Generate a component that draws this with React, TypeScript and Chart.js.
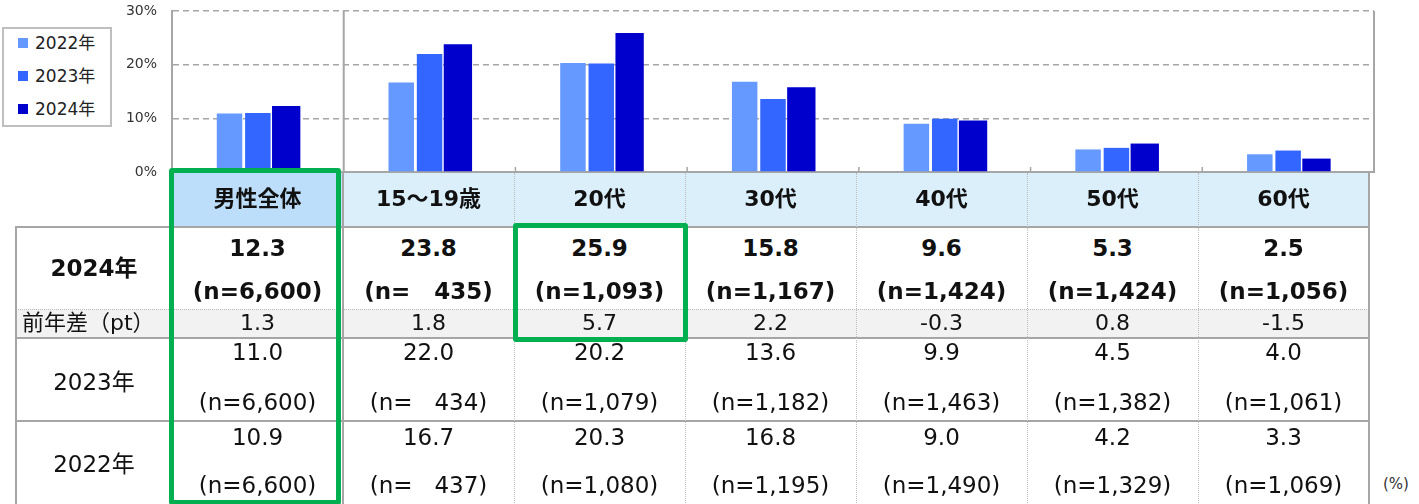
import React, { useEffect, useRef } from 'react';
import { Chart, registerables } from 'chart.js';

Chart.register(...registerables);

// ---------- data ----------
const categories = ['男性全体', '15～19歳', '20代', '30代', '40代', '50代', '60代'];
const years = ['2022年', '2023年', '2024年'];
const values2022 = [10.9, 16.7, 20.3, 16.8, 9.0, 4.2, 3.3];
const values2023 = [11.0, 22.0, 20.2, 13.6, 9.9, 4.5, 4.0];
const values2024 = [12.3, 23.8, 25.9, 15.8, 9.6, 5.3, 2.5];
const diffPt = [1.3, 1.8, 5.7, 2.2, -0.3, 0.8, -1.5];
const n2024 = ['6,600', '   435', '1,093', '1,167', '1,424', '1,424', '1,056'];
const n2023 = ['6,600', '   434', '1,079', '1,182', '1,463', '1,382', '1,061'];
const n2022 = ['6,600', '   437', '1,080', '1,195', '1,490', '1,329', '1,069'];
const yTicks = [0, 10, 20, 30];
const rowLabels = ['2024年', '前年差（pt）', '2023年', '2022年'];
const unitLabel = '(%)';

// ---------- styles ----------
const FONT = '"DejaVu Sans", "Noto Sans CJK JP", sans-serif';
const COLORS = ['#6699FF', '#3366FF', '#0000CC'];
const GRAY = '#A6A6A6';
const DOT = '#BDBDBD';
const GREEN = '#00B050';

const COL_X0 = 172;
const COL_W = 171;
const LABEL_X0 = 16;
const TABLE_R = COL_X0 + COL_W * 7;

const framePlugin = {
  id: 'frame',
  afterDraw(chart: any) {
    const { ctx, chartArea, scales } = chart;
    const { right, top, bottom } = chartArea;
    const x = scales.x;
    ctx.save();
    ctx.strokeStyle = GRAY;
    ctx.lineWidth = 2;
    ctx.beginPath();
    ctx.moveTo(right, top);
    ctx.lineTo(right, bottom);
    const b1 = (x.getPixelForValue(0) + x.getPixelForValue(1)) / 2;
    ctx.moveTo(b1, top);
    ctx.lineTo(b1, bottom);
    ctx.stroke();
    ctx.lineWidth = 1.5;
    ctx.beginPath();
    for (let i = 1; i < categories.length - 1; i++) {
      const b = (x.getPixelForValue(i) + x.getPixelForValue(i + 1)) / 2;
      ctx.moveTo(b, bottom);
      ctx.lineTo(b, bottom - 5);
    }
    ctx.stroke();
    ctx.restore();
  },
};

function BarChart() {
  const ref = useRef<HTMLCanvasElement | null>(null);
  useEffect(() => {
    if (!ref.current) return;
    const chart = new Chart(ref.current, {
      type: 'bar',
      data: {
        labels: categories,
        datasets: [
          { label: years[0], data: values2022, backgroundColor: COLORS[0], barPercentage: 0.9 },
          { label: years[1], data: values2023, backgroundColor: COLORS[1], barPercentage: 0.9 },
          { label: years[2], data: values2024, backgroundColor: COLORS[2], barPercentage: 1.0 },
        ],
      },
      options: {
        animation: false,
        responsive: false,
        devicePixelRatio: 1,
        layout: { padding: { top: 11, right: 45, bottom: 10, left: 0 } },
        datasets: { bar: { categoryPercentage: 0.495 } },
        plugins: { legend: { display: false }, tooltip: { enabled: false } },
        scales: {
          x: {
            grid: { display: false, drawTicks: false },
            ticks: { display: false },
            border: { display: true, color: GRAY, width: 2 },
          },
          y: {
            min: 0,
            max: 30,
            afterBuildTicks: (s: any) => {
              s.ticks = yTicks.map((v) => ({ value: v }));
            },
            afterFit: (s: any) => {
              s.width = 172;
              s.paddingTop = 0;
              s.paddingBottom = 0;
            },
            ticks: {
              padding: 15,
              color: '#333',
              font: { family: FONT, size: 14 },
              callback: (v: any) => v + '%',
            },
            grid: { color: GRAY, lineWidth: 1.5, drawTicks: false },
            border: { display: true, color: GRAY, width: 2, dash: [6, 4] },
          },
        },
      },
      plugins: [framePlugin],
    } as any);
    return () => chart.destroy();
  }, []);
  return (
    <canvas
      ref={ref}
      width={1419}
      height={182}
      style={{ position: 'absolute', left: 0, top: 0, display: 'block' }}
    />
  );
}

function Txt(props: { cx: number; cy: number; text: string; bold?: boolean; size?: number; w?: number; align?: 'center' | 'left'; color?: string }) {
  const { cx, cy, text, bold, size = 23, w = 170, align = 'center', color = '#111' } = props;
  const lh = 40;
  return (
    <div
      style={{
        position: 'absolute',
        left: align === 'center' ? cx - w / 2 : cx,
        top: cy - lh / 2,
        width: w,
        height: lh,
        lineHeight: lh + 'px',
        textAlign: align,
        fontFamily: FONT,
        fontSize: size,
        fontWeight: bold ? 700 : 400,
        whiteSpace: 'pre',
        color,
      }}
    >
      {text}
    </div>
  );
}

function Box(props: { x: number; y: number; w: number; h: number; bg?: string; style?: any }) {
  return (
    <div
      style={{
        position: 'absolute',
        left: props.x,
        top: props.y,
        width: props.w,
        height: props.h,
        background: props.bg,
        boxSizing: 'border-box',
        ...(props.style || {}),
      }}
    />
  );
}

function HLine(props: { x1: number; x2: number; y: number; dotted?: boolean }) {
  return props.dotted ? (
    <Box x={props.x1} y={props.y} w={props.x2 - props.x1} h={1} style={{ borderTop: `1px dotted ${DOT}` }} />
  ) : (
    <Box x={props.x1} y={props.y - 1} w={props.x2 - props.x1} h={2} bg={GRAY} />
  );
}

function VLine(props: { x: number; y1: number; y2: number; dotted?: boolean }) {
  return props.dotted ? (
    <Box x={props.x} y={props.y1} w={1} h={props.y2 - props.y1} style={{ borderLeft: `1px dotted ${DOT}` }} />
  ) : (
    <Box x={props.x - 1} y={props.y1} w={2} h={props.y2 - props.y1} bg={GRAY} />
  );
}

function Table() {
  const ROW = { head: [173, 227], r24: [227, 309], diff: [309, 338], r23: [338, 421], r22: [421, 505] };
  const cx = (i: number) => COL_X0 + COL_W * i + COL_W / 2;
  const labelCx = (LABEL_X0 + COL_X0) / 2;
  const items: any[] = [];
  categories.forEach((_, i) => {
    items.push(<Box key={'hb' + i} x={COL_X0 + COL_W * i} y={ROW.head[0]} w={COL_W} h={ROW.head[1] - ROW.head[0]} bg={i === 0 ? '#BDDEFA' : '#DBEFFB'} />);
  });
  items.push(<Box key="diffbg" x={LABEL_X0} y={ROW.diff[0]} w={TABLE_R - LABEL_X0} h={ROW.diff[1] - ROW.diff[0]} bg="#F2F2F2" />);
  items.push(<HLine key="h1" x1={LABEL_X0} x2={TABLE_R} y={ROW.r24[0]} />);
  items.push(<HLine key="h2" x1={LABEL_X0} x2={TABLE_R} y={ROW.diff[0]} dotted />);
  items.push(<HLine key="h3" x1={LABEL_X0} x2={TABLE_R} y={ROW.r23[0]} />);
  items.push(<HLine key="h4" x1={LABEL_X0} x2={TABLE_R} y={ROW.r22[0]} />);
  items.push(<VLine key="v0" x={LABEL_X0} y1={ROW.r24[0] - 1} y2={505} />);
  items.push(<VLine key="vl" x={COL_X0} y1={ROW.r24[0]} y2={505} />);
  items.push(<VLine key="v1" x={COL_X0 + COL_W} y1={ROW.head[0]} y2={505} />);
  for (let i = 2; i < 7; i++) items.push(<VLine key={'vd' + i} x={COL_X0 + COL_W * i} y1={ROW.head[0]} y2={505} dotted />);
  items.push(<VLine key="vr" x={TABLE_R} y1={ROW.head[0]} y2={505} />);
  categories.forEach((c, i) => items.push(<Txt key={'ht' + i} cx={cx(i)} cy={199} text={c} bold size={22} />));
  items.push(<Txt key="l24" cx={labelCx} cy={268} text={rowLabels[0]} bold />);
  items.push(<Txt key="ld" cx={22} cy={323} text={rowLabels[1]} align="left" w={150} size={22} />);
  items.push(<Txt key="l23" cx={labelCx} cy={382} text={rowLabels[2]} />);
  items.push(<Txt key="l22" cx={labelCx} cy={464} text={rowLabels[3]} />);
  categories.forEach((_, i) => {
    items.push(<Txt key={'a' + i} cx={cx(i)} cy={248} text={values2024[i].toFixed(1)} bold />);
    items.push(<Txt key={'an' + i} cx={cx(i)} cy={291} text={'(n=' + n2024[i] + ')'} bold />);
    items.push(<Txt key={'d' + i} cx={cx(i)} cy={323} text={diffPt[i].toFixed(1)} size={22} />);
    items.push(<Txt key={'b' + i} cx={cx(i)} cy={352} text={values2023[i].toFixed(1)} />);
    items.push(<Txt key={'bn' + i} cx={cx(i)} cy={402} text={'(n=' + n2023[i] + ')'} />);
    items.push(<Txt key={'c' + i} cx={cx(i)} cy={437} text={values2022[i].toFixed(1)} />);
    items.push(<Txt key={'cn' + i} cx={cx(i)} cy={485} text={'(n=' + n2022[i] + ')'} />);
  });
  items.push(<Box key="g1" x={169} y={168} w={172} h={337} style={{ border: `5px solid ${GREEN}`, borderRadius: 3 }} />);
  items.push(<Box key="g2" x={513} y={223} w={175} h={119} style={{ border: `5px solid ${GREEN}`, borderRadius: 3 }} />);
  items.push(<Txt key="unit" cx={1383} cy={484} text={unitLabel} size={15} align="left" w={40} color="#333" />);
  return <>{items}</>;
}

function Legend() {
  const ys = [43, 76, 109];
  return (
    <div
      style={{
        position: 'absolute',
        left: 2,
        top: 27,
        width: 110,
        height: 100,
        border: `2px solid #BFBFBF`,
        boxSizing: 'border-box',
        background: '#fff',
      }}
    >
      {years.map((y, i) => (
        <React.Fragment key={y}>
          <div style={{ position: 'absolute', left: 14, top: ys[i] - 27 - 5 - 2, width: 10, height: 10, background: COLORS[i] }} />
          <div
            style={{
              position: 'absolute',
              left: 31,
              top: ys[i] - 27 - 12 - 2,
              height: 24,
              lineHeight: '24px',
              fontFamily: FONT,
              fontSize: 17,
              color: '#222',
              whiteSpace: 'pre',
            }}
          >
            {y}
          </div>
        </React.Fragment>
      ))}
    </div>
  );
}

export default function App() {
  return (
    <div style={{ position: 'absolute', left: 0, top: 0, width: 1419, height: 504, overflow: 'hidden', background: '#fff' }}>
      <BarChart />
      <Table />
      <Legend />
    </div>
  );
}
